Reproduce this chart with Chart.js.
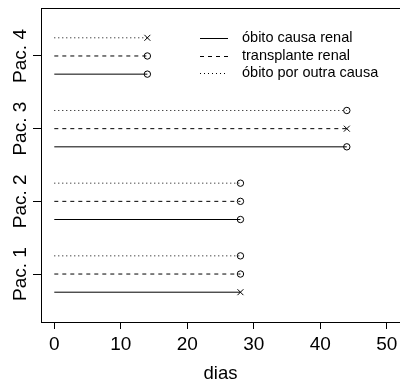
<!DOCTYPE html>
<html>
<head>
<meta charset="utf-8">
<script src="https://cdn.jsdelivr.net/npm/chart.js@4/dist/chart.umd.min.js"></script>
<style>
  body { margin: 0; background: #fff; }
  #wrap { width: 400px; height: 381px; }
</style>
</head>
<body>
<div id="wrap"><canvas id="chart"></canvas></div>
<script>
// dados
const pacientes = ['Pac. 1', 'Pac. 2', 'Pac. 3', 'Pac. 4'];
const dias = [28, 28, 44, 14];
// 1 = evento (x), 0 = censura (o)
const obitoRenal = [1, 0, 0, 0];
const transplante = [0, 0, 1, 0];
const obitoOutra = [0, 0, 0, 1];
const legendas = ['óbito causa renal', 'transplante renal', 'óbito por outra causa'];
const xTicks = [0, 10, 20, 30, 40, 50];

const font = 'Liberation Sans, Arial, Helvetica, sans-serif';
const tipos = [
  { status: obitoRenal, dash: [], offset: -0.25 },
  { status: transplante, dash: [4, 4], offset: 0 },
  { status: obitoOutra, dash: [1, 3], offset: 0.25 },
];

const datasets = [];
pacientes.forEach((p, i) => {
  tipos.forEach((t, k) => {
    const y = i + 1 + t.offset;
    const evento = t.status[i] === 1;
    datasets.push({
      label: p + ' ' + legendas[k],
      data: [{ x: 0, y: y }, { x: dias[i], y: y }],
      showLine: true,
      borderColor: '#000',
      borderWidth: 1,
      borderDash: t.dash,
      pointRadius: [0, evento ? 4.2 : 3.2],
      pointStyle: evento ? 'crossRot' : 'circle',
      pointBorderColor: '#000',
      pointBackgroundColor: 'rgba(0,0,0,0)',
      pointBorderWidth: 1,
    });
  });
});

const extras = {
  id: 'extras',
  afterDraw(chart) {
    const { ctx, chartArea, scales } = chart;
    ctx.save();
    // borda superior da caixa
    ctx.strokeStyle = '#000';
    ctx.lineWidth = 1;
    ctx.beginPath();
    ctx.moveTo(chartArea.left, chartArea.top + 0.5);
    ctx.lineTo(chartArea.right, chartArea.top + 0.5);
    ctx.stroke();

    ctx.fillStyle = '#000';
    ctx.textBaseline = 'alphabetic';
    ctx.textAlign = 'center';
    // título do eixo x
    ctx.font = '18.5px ' + font;
    ctx.fillText('dias', (chartArea.left + chartArea.right) / 2, 379);

    // rótulos do eixo y
    ctx.font = '19px ' + font;
    pacientes.forEach((p, i) => {
      const y = scales.y.getPixelForValue(i + 1);
      ctx.save();
      ctx.translate(26, y);
      ctx.rotate(-Math.PI / 2);
      ctx.fillText(p, 0, 0);
      ctx.restore();
    });

    // legenda
    ctx.font = '14.5px ' + font;
    ctx.textAlign = 'left';
    ctx.textBaseline = 'middle';
    tipos.forEach((t, k) => {
      const y = 38 + k * 17.6;
      ctx.setLineDash(t.dash);
      ctx.beginPath();
      ctx.moveTo(200, Math.round(y) + 0.5);
      ctx.lineTo(228, Math.round(y) + 0.5);
      ctx.stroke();
      ctx.setLineDash([]);
      ctx.fillText(legendas[k], 242, y);
    });
    ctx.restore();
  }
};

new Chart(document.getElementById('chart'), {
  type: 'scatter',
  data: { datasets },
  options: {
    responsive: true,
    maintainAspectRatio: false,
    animation: false,
    events: [],
    layout: { autoPadding: false, padding: { top: 8, right: 0, left: 0, bottom: 0 } },
    plugins: { legend: { display: false }, tooltip: { enabled: false } },
    scales: {
      x: {
        type: 'linear',
        min: -2,
        max: 52,
        afterBuildTicks: (s) => { s.ticks = xTicks.map(v => ({ value: v })); },
        afterFit: (s) => { s.height = 59; s.paddingLeft = 0; s.paddingRight = 0; },
        grid: { drawOnChartArea: false, drawTicks: true, tickLength: 7, color: '#000' },
        border: { display: true, color: '#000', width: 1 },
        ticks: { color: '#000', font: { family: font, size: 19 }, padding: 4, maxRotation: 0 },
      },
      y: {
        type: 'linear',
        min: 0.34,
        max: 4.66,
        afterBuildTicks: (s) => { s.ticks = pacientes.map((p, i) => ({ value: i + 1 })); },
        afterFit: (s) => { s.width = 41; s.paddingTop = 0; s.paddingBottom = 0; },
        grid: { drawOnChartArea: false, drawTicks: true, tickLength: 8, color: '#000' },
        border: { display: true, color: '#000', width: 1 },
        ticks: { display: false },
      },
    },
  },
  plugins: [extras],
});
</script>
</body>
</html>
